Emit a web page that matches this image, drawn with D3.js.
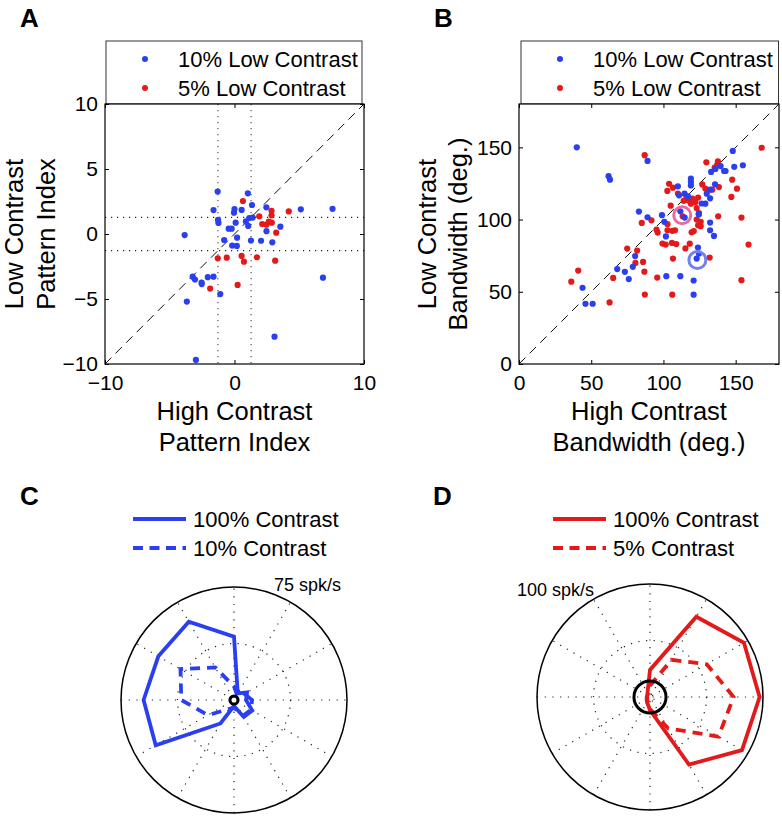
<!DOCTYPE html>
<html><head><meta charset="utf-8">
<script src="https://cdn.jsdelivr.net/npm/d3@7"></script>
<style>
body{margin:0;background:#fff;}
svg{display:block;font-family:"Liberation Sans",Arial,Helvetica,sans-serif;}
</style></head>
<body><svg id="fig" width="782" height="830"></svg>
<script>
// ---------- DATA ----------
const legendLabelsAB = ["10% Low Contrast", "5% Low Contrast"];
const ticksAx = [-10, 0, 10];
const ticksAy = [-10, -5, 0, 5, 10];
const ticksB = [0, 50, 100, 150];
const piThreshold = 1.28;

const patternBlue = [[-1.3,3.27],[1.03,3.13],[-1.62,1.84],[0,1.92],[-0.04,1.64],[0.55,1.85],[1.35,2.23],[2.46,2.05],[5.12,1.9],[7.57,1.94],[-1.27,1.08],[-1.24,0.85],[0.09,0.87],[0.88,0.97],[1.14,1.23],[1.4,1.26],[1.06,0.62],[-0.45,0.41],[-0.22,0.41],[-3.85,-0.08],[-0.8,-0.46],[0.2,-0.28],[1.27,-0.5],[2.05,-0.52],[2.47,0.22],[2.92,-0.64],[3.54,0.56],[-0.18,-0.89],[0.18,-0.92],[-3.23,-3.28],[-3.05,-3.5],[-2.54,-3.74],[-2.53,-3.85],[-2.06,-3.32],[-1.62,-3.28],[-1.1,-4.62],[-3.68,-5.2],[6.83,-3.36],[3.09,-7.9],[-2.98,-9.69]];
const patternRed = [[0.65,2.54],[1.91,1.36],[2.86,1.79],[2.86,1.44],[4.19,1.74],[2.14,0.77],[2.47,0.72],[2.65,0.95],[2.88,0.87],[3.22,0.1],[-1.29,-1.87],[-0.6,-1.82],[0.55,-1.69],[0.73,-2.13],[1.73,-1.79],[3.14,-2.05],[-1.88,-4.2],[0.24,-3.92]];

const bwBlue = [[40,150],[148,147.5],[149,136.5],[155,137.6],[89,140.6],[62,130],[63,127.6],[139.6,137],[142,133.6],[133,133],[136,135],[110,123],[117,116],[114.6,117.9],[110.8,116.8],[119,128.3],[119,126],[119,123.6],[135.7,124.4],[132.3,120.7],[130,117.9],[132.3,114.7],[129,111],[126.4,111.1],[124.6,104.1],[83,105.5],[89,101.6],[99,103],[100.6,98.4],[101.7,88.3],[111.7,105.7],[114.7,101.4],[124.4,103.5],[132.3,97.9],[132.3,92.6],[135,88.7],[124.6,76.5],[123.9,80.6],[123,73],[80.4,74.7],[78.8,67.3],[68,65.7],[73.3,63.8],[76,58.8],[102,60.8],[111.7,60.8],[120.9,57.8],[120.9,48],[44,52.8],[46,41.7],[51,41.7],[143,133.6]];
const bwRed = [[168,149.7],[87,144.6],[129.7,139.6],[137.7,140.3],[137,137.6],[135.5,136],[147.6,127.6],[150.9,121.4],[147,115.7],[103.9,124.8],[106.6,122.1],[102.7,119.8],[126.9,124.3],[129,121.5],[133.8,120.7],[138.4,122.5],[117,113.3],[120,114.5],[124,115.2],[119,111],[122,112],[116,115],[110,118],[114,113],[123,108],[105,109.6],[124.5,104.5],[123,100],[124,96],[121,92],[119.5,91.2],[125.8,98.4],[125.8,95.4],[137.9,102.3],[154,101.4],[113.3,102.3],[85,97.7],[91.7,99.5],[95.2,93.1],[96,91],[102.8,92.6],[106.2,92.2],[108,92.6],[102.8,96.8],[99.3,83.4],[101.6,82.7],[105.9,83.8],[108.9,83],[118.2,83.3],[115.2,80],[132,73.7],[106.6,73],[158.9,82.7],[74.9,79.9],[81.8,78.5],[80.6,70],[85.9,70.7],[86.8,63.9],[87.1,48.1],[41,64.7],[36.2,57],[65.2,59.6],[62.7,42.6],[95.7,59.8],[154,58],[106.1,48]];
const highlightPink = [113, 103];
const highlightBlue = [123.5, 72];

const polarAngles = [0,30,60,90,120,150,180,210,240,270,300,330];
const cMax = 75, dMax = 100;
const cSolid  = [8, 10, 5, 42, 60, 58, 60, 60, 18, 4, 13, 14];
const cDashed = [12, 8, 4, 9, 25, 41, 35, 20, 7, 5, 12, 13];
const cSpont = 2.7;
const dSolid  = [97, 96, 82, 24, 4.4, 2.7, 2.7, 3.5, 5.3, 11.5, 69, 94];
const dDashed = [74, 58, 38, 10, 3.5, 2.7, 2.7, 2.7, 4.4, 10.6, 32, 70];
const dSpont = 14.2;
const legendC = ["100% Contrast", "10% Contrast"];
const legendD = ["100% Contrast", "5% Contrast"];

// ---------- STYLE ----------
const BLUE = "#2a3ff0", RED = "#e41a1a", PINK = "#ec6aa0", LAV = "#7380ee";
const svg = d3.select("#fig");
const TICKF = 21, LEGF = 22, TITF = 25.5;

function panelLetter(t, x, y){
  svg.append("text").attr("x",x).attr("y",y).attr("font-size",26).attr("font-weight","bold").text(t);
}

function scatterPanel(o){
  const g = svg.append("g");
  const x = d3.scaleLinear().domain(o.dom).range([o.l, o.r]);
  const y = d3.scaleLinear().domain(o.dom).range([o.b, o.t]);
  // legend box
  g.append("rect").attr("x",o.legX).attr("y",41).attr("width",o.legW).attr("height",o.t-41)
    .attr("fill","#fff").attr("stroke","#333").attr("stroke-width",1);
  legendLabelsAB.forEach((lab,i)=>{
    g.append("circle").attr("cx",o.legDot).attr("cy",59+29*i).attr("r",3).attr("fill",i?RED:BLUE);
    g.append("text").attr("x",o.legText).attr("y",67+28.5*i).attr("font-size",LEGF).text(lab);
  });
  // plot bg
  g.append("rect").attr("x",o.l).attr("y",o.t).attr("width",o.r-o.l).attr("height",o.b-o.t).attr("fill","#fff");
  // extras (dotted lines)
  if(o.thr){
    [-o.thr,o.thr].forEach(v=>{
      g.append("line").attr("x1",x(v)).attr("x2",x(v)).attr("y1",o.t).attr("y2",o.b)
        .attr("stroke","#555").attr("stroke-width",1.2).attr("stroke-dasharray","1.2,4.8");
      g.append("line").attr("y1",y(v)).attr("y2",y(v)).attr("x1",o.l).attr("x2",o.r)
        .attr("stroke","#222").attr("stroke-width",1.2).attr("stroke-dasharray","1.2,4.8");
    });
  }
  // diagonal
  g.append("line").attr("x1",x(o.dom[0])).attr("y1",y(o.dom[0])).attr("x2",x(o.dom[1])).attr("y2",y(o.dom[1]))
    .attr("stroke","#111").attr("stroke-width",1).attr("stroke-dasharray","9,6");
  // points
  g.selectAll(".r").data(o.red).join("circle").attr("cx",d=>x(d[0])).attr("cy",d=>y(d[1])).attr("r",3.1).attr("fill",RED);
  g.selectAll(".b").data(o.blue).join("circle").attr("cx",d=>x(d[0])).attr("cy",d=>y(d[1])).attr("r",3.1).attr("fill",BLUE);
  if(o.hl){
    o.hl.forEach(h=>{
      g.append("circle").attr("cx",x(h.p[0])).attr("cy",y(h.p[1])).attr("r",8.5)
        .attr("fill","none").attr("stroke",h.c).attr("stroke-width",3);
    });
  }
  // axes
  const ax = (gen, tx, ty, lab)=>{
    const a = g.append("g").attr("transform",`translate(${tx},${ty})`).call(gen);
    a.select(".domain").remove();
    a.selectAll("line").attr("stroke","#000");
    a.selectAll("text").attr("font-size",TICKF).attr("font-family","Liberation Sans, Arial, sans-serif").attr("fill","#000");
    if(!lab) a.selectAll("text").remove();
  };
  ax(d3.axisBottom(x).tickValues(o.xt).tickSize(-4).tickPadding(11).tickFormat(d3.format("d")), 0, o.b, true);
  ax(d3.axisTop(x).tickValues(o.xt).tickSize(-4), 0, o.t, false);
  ax(d3.axisLeft(y).tickValues(o.yt).tickSize(-4).tickPadding(7).tickFormat(d3.format("d")), o.l, 0, true);
  ax(d3.axisRight(y).tickValues(o.yt).tickSize(-4), o.r, 0, false);
  g.append("rect").attr("x",o.l).attr("y",o.t).attr("width",o.r-o.l).attr("height",o.b-o.t)
    .attr("fill","none").attr("stroke","#000").attr("stroke-width",1.2);
  // titles
  const cx = (o.l+o.r)/2, cy=(o.t+o.b)/2;
  o.xTitle.forEach((s,i)=>g.append("text").attr("x",cx).attr("y",419.5+31.5*i).attr("text-anchor","middle").attr("font-size",TITF).text(s));
  o.yTitle.forEach((s,i)=>g.append("text").attr("transform",`translate(${o.yTx[i]},${cy}) rotate(-90)`).attr("text-anchor","middle").attr("font-size",TITF).text(s));
}

scatterPanel({dom:[-10,10], l:105, r:364, t:104, b:364, legX:106, legW:256, legDot:145, legText:178,
  blue:patternBlue, red:patternRed, thr:piThreshold, xt:ticksAx, yt:ticksAy,
  xTitle:["High Contrast","Pattern Index"], yTitle:["Low Contrast","Pattern Index"], yTx:[23,55]});
scatterPanel({dom:[0,180], l:519, r:779, t:104, b:364, legX:521, legW:257.5, legDot:560, legText:593,
  blue:bwBlue, red:bwRed, xt:ticksB, yt:ticksB,
  hl:[{p:highlightPink,c:PINK},{p:highlightBlue,c:LAV}],
  xTitle:["High Contrast","Bandwidth (deg.)"], yTitle:["Low Contrast","Bandwidth (deg.)"], yTx:[436,467]});

function polarPanel(o){
  const g = svg.append("g").attr("transform",`translate(${o.cx},${o.cy})`);
  const r = d3.scaleLinear().domain([0,o.max]).range([0,113]);
  const toA = deg => Math.PI/2 - deg*Math.PI/180;
  // grid
  g.append("circle").attr("r",r(o.max/2)).attr("fill","none").attr("stroke","#222").attr("stroke-width",1.2).attr("stroke-dasharray","1.2,6.5");
  [0,30,60,90,120,150].forEach(a=>{
    const t=a*Math.PI/180;
    g.append("line").attr("x1",-r(o.max)*Math.cos(t)).attr("y1",r(o.max)*Math.sin(t))
      .attr("x2",r(o.max)*Math.cos(t)).attr("y2",-r(o.max)*Math.sin(t))
      .attr("stroke","#222").attr("stroke-width",1.2).attr("stroke-dasharray","1.2,6.5");
  });
  g.append("circle").attr("r",r(o.max)).attr("fill","none").attr("stroke","#000").attr("stroke-width",1.5);
  const line = d3.lineRadial().angle((d,i)=>toA(polarAngles[i])).radius(d=>r(d)).curve(d3.curveLinearClosed);
  g.append("path").attr("d",line(o.dashed)).attr("fill","none").attr("stroke",o.color).attr("stroke-width",3.8)
    .attr("stroke-dasharray","10,7");
  g.append("path").attr("d",line(o.solid)).attr("fill","none").attr("stroke",o.color).attr("stroke-width",3.8)
    .attr("stroke-linejoin","miter");
  g.append("circle").attr("r",r(o.spont)).attr("fill","none").attr("stroke","#000").attr("stroke-width",3);
  svg.append("text").attr("x",o.lblX).attr("y",o.lblY).attr("font-size",18).text(o.label);
  // legend
  o.legend.forEach((s,i)=>{
    svg.append("line").attr("x1",o.legX).attr("x2",o.legX+53).attr("y1",519+29*i).attr("y2",519+29*i)
      .attr("stroke",o.color).attr("stroke-width",4).attr("stroke-dasharray",i?"10,6.5":null);
    svg.append("text").attr("x",o.legX+60).attr("y",527+29*i).attr("font-size",LEGF).text(s);
  });
}
polarPanel({cx:234, cy:700, max:cMax, solid:cSolid, dashed:cDashed, spont:cSpont, color:BLUE,
  label:"75 spk/s", lblX:274, lblY:591, legend:legendC, legX:133});
polarPanel({cx:650, cy:697, max:dMax, solid:dSolid, dashed:dDashed, spont:dSpont, color:RED,
  label:"100 spk/s", lblX:517, lblY:596, legend:legendD, legX:553});

panelLetter("A",20,27); panelLetter("B",434,27); panelLetter("C",20,505); panelLetter("D",433,505);
</script></body></html>
